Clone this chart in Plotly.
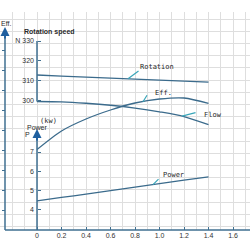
import numpy as np
import plotly.graph_objects as go

# ---- data ----
flow_x = [0, 0.2, 0.4, 0.6, 0.8, 1.0, 1.2, 1.4]
rotation = [312.85, 312.3, 311.8, 311.3, 310.8, 310.3, 309.8, 309.3]
flow_curve = [299.5, 299.3, 298.6, 297.6, 296.2, 294.3, 291.9, 287.8]
eff = [40.2, 49.5, 55.5, 60.0, 63.5, 65.5, 66.0, 63.3]
power = [4.47, 4.65, 4.82, 5.0, 5.18, 5.36, 5.54, 5.71]

x_ticks = [0, 0.2, 0.4, 0.6, 0.8, 1.0, 1.2, 1.4, 1.6]
x_ticktext = ["0", "0.2", "0.4", "0.6", "0.8", "1.0", "1.2", "1.4", "1.6"]
n_ticks = [300, 310, 320, 330]
n_ticktext = ["300", "310", "320", "N 330"]
p_ticks = [4, 5, 6, 7]
p_ticktext = ["4", "5", "6", "7"]
eff_ticks = [10, 20, 30, 40, 50, 60, 70, 80, 90]

# ---- style ----
W = H = 250
LINE = "#3b6b8c"
AXC = "#3f6f90"
LEAD = "#3aa6b9"
ARROW = "#1f5f9f"
GRID = "#dedede"
TXT = "#2a2a2a"
FONT = "Liberation Sans"
MONO = "DejaVu Sans Mono"


def px(x):
    return x / W


def py(y):
    return (H - y) / H


fig = go.Figure()
common = dict(mode="lines", line=dict(color=LINE, width=1.3, shape="spline", smoothing=0.8),
              hoverinfo="skip", showlegend=False)
fig.add_trace(go.Scatter(x=flow_x, y=rotation, yaxis="y2", **common))
fig.add_trace(go.Scatter(x=flow_x, y=flow_curve, yaxis="y2", **common))
fig.add_trace(go.Scatter(x=flow_x, y=eff, yaxis="y", **common))
fig.add_trace(go.Scatter(x=flow_x, y=power, yaxis="y3", **common))

dom = [py(230), py(12)]
tickfont = dict(family=FONT, size=7, color="#333333")

fig.update_layout(
    width=W, height=H, margin=dict(l=0, r=0, t=0, b=0),
    paper_bgcolor="white", plot_bgcolor="white",
    xaxis=dict(domain=[0, 1], range=[-37 / 122.5, 213 / 122.5], tickvals=x_ticks, ticktext=x_ticktext,
               ticks="inside", ticklen=3, tickcolor=AXC, tickwidth=1, tickfont=tickfont,
               showgrid=True, gridcolor=GRID, gridwidth=1, zeroline=False, showline=False,
               minor=dict(dtick=0.1, tick0=0, showgrid=True, gridcolor=GRID, gridwidth=1, ticks=""),
               anchor="y", fixedrange=True),
    yaxis=dict(domain=dom, range=[0, 109], tickvals=eff_ticks, ticks="outside", ticklen=3,
               tickcolor=AXC, showticklabels=False, showgrid=False, zeroline=False, showline=False,
               minor=dict(dtick=6.1, tick0=75, showgrid=True, gridcolor=GRID, gridwidth=1, ticks=""),
               anchor="free", position=px(5), fixedrange=True),
    yaxis2=dict(domain=dom, overlaying="y", range=[330 - (230 - 41) / 1.983, 330 + (41 - 12) / 1.983],
                tickvals=n_ticks, ticktext=n_ticktext, ticks="inside", ticklen=3, tickcolor=AXC,
                tickfont=tickfont, ticklabelstandoff=3, showgrid=False, zeroline=False, showline=False,
                anchor="free", position=px(37), fixedrange=True),
    yaxis3=dict(domain=dom, overlaying="y", range=[7 - (230 - 152) / 19.33, 7 + (152 - 12) / 19.33],
                tickvals=p_ticks, ticktext=p_ticktext, ticks="inside", ticklen=3, tickcolor=AXC,
                tickfont=tickfont, ticklabelstandoff=3, showgrid=False, zeroline=False, showline=False,
                anchor="free", position=px(37), fixedrange=True),
)

# axis lines
shapes = [
    dict(x0=px(5), x1=px(5), y0=py(230), y1=py(36)),
    dict(x0=px(5), x1=px(250), y0=py(230), y1=py(230)),
    dict(x0=px(37), x1=px(37), y0=py(41), y1=py(101.5)),
    dict(x0=px(37), x1=px(37), y0=py(230), y1=py(137)),
]
for s in shapes:
    fig.add_shape(type="line", xref="paper", yref="paper", line=dict(color=AXC, width=1.5), **s)

ann = []
# axis arrows
for (ax_x, ax_y) in [(5, 27), (37, 129)]:
    ann.append(dict(x=px(ax_x), y=py(ax_y), xref="paper", yref="paper", text="", showarrow=True,
                    ax=0, ay=13, arrowhead=2, arrowsize=1, arrowwidth=1.8, arrowcolor=ARROW))

# static texts
def txt(t, x, y, size=7, family=FONT, anchor="center"):
    ann.append(dict(x=px(x), y=py(y), xref="paper", yref="paper", text=t, showarrow=False,
                    xanchor=anchor, yanchor="middle", font=dict(family=family, size=size, color=TXT)))

txt("Eff.", 6, 24, size=7)
txt("<b>Rotation speed</b>", 49, 32, size=7, family="Liberation Sans Narrow, Liberation Sans")
txt("(kw)", 48, 121, size=7, family=MONO)
txt("Power", 37.5, 127, size=7)
txt("P", 27, 134, size=7)

# curve labels with leader lines
labels = [
    ("Rotation", rotation, "y2", 0.743, 12, -9, 10, 12),
    ("Eff.", eff, "y", 0.865, 5, -8, 10, 9),
    ("Flow", flow_curve, "y2", 1.184, 15, -4, 20, 1),
    ("Power", power, "y3", 0.947, 7, -7, 8, 10),
]
for name, series, yref, xv, lax, lay, xs, ys in labels:
    yv = float(np.interp(xv, flow_x, series))
    ann.append(dict(x=xv, y=yv, xref="x", yref=yref, text="", showarrow=True, ax=lax, ay=lay,
                    arrowhead=0, arrowwidth=1.2, arrowcolor=LEAD, standoff=0, startstandoff=0))
    ann.append(dict(x=xv, y=yv, xref="x", yref=yref, text=name, showarrow=False, xshift=xs, yshift=ys,
                    xanchor="left", yanchor="middle", font=dict(family=MONO, size=7, color=TXT)))

fig.update_layout(annotations=ann)
fig.write_html("out.html")
